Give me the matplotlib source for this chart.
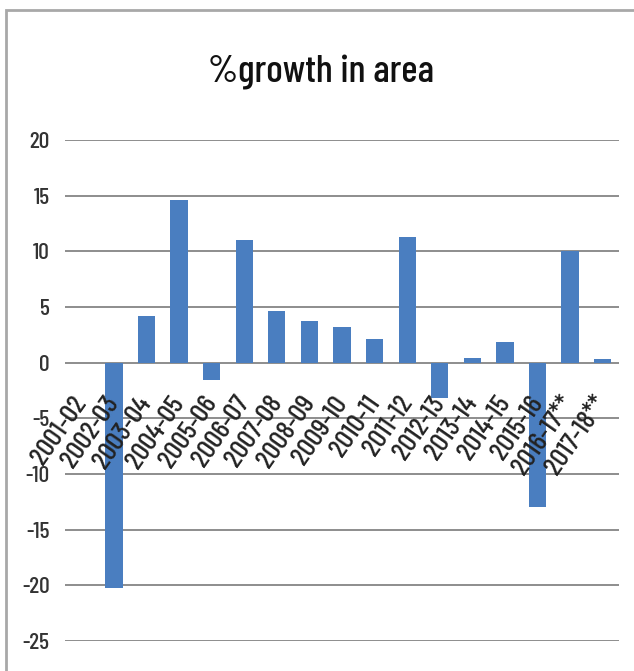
#! /usr/bin/python

# % growth in area, bar chart
import matplotlib
matplotlib.use('Agg')
import matplotlib.pyplot as plt
from matplotlib.patches import Rectangle
import numpy as np

years = ['2001-02', '2002-03', '2003-04', '2004-05', '2005-06', '2006-07',
         '2007-08', '2008-09', '2009-10', '2010-11', '2011-12', '2012-13',
         '2013-14', '2014-15', '2015-16', '2016-17**', '2017-18**']
growth = [0.0, -20.2, 4.2, 14.6, -1.6, 11.0, 4.6, 3.75, 3.2, 2.1, 11.3,
          -3.2, 0.45, 1.9, -13.0, 10.0, 0.3]
yticks = [-25, -20, -15, -10, -5, 0, 5, 10, 15, 20]

narrow = ['Barlow Condensed', 'Carlito', 'DejaVu Sans']

fig = plt.figure(figsize=(6.34, 6.71), dpi=100)
ax = fig.add_axes([65/634, 1 - 641/671, (619 - 65)/634, (641 - 140)/671])

ind = np.arange(len(years))
ax.bar(ind, growth, 0.53, color='#4A7EC0', zorder=1)

ax.set_xlim(-0.5, len(years) - 0.5)
ax.set_ylim(-25, 20)
ax.set_yticks(yticks)
ax.set_yticklabels([str(v) for v in yticks], family=narrow, fontsize=17,
                   weight=500, color='#333333')
ax.yaxis.grid(True, color='#858585', linewidth=1.3)
ax.yaxis.set_zorder(0.5)
ax.tick_params(axis='y', length=0, pad=11)

# category labels hang under the zero line, drawn over the bars
ax.spines['bottom'].set_position(('data', 0))
ax.set_xticks(ind)
ax.set_xticklabels(years, family=narrow, fontsize=20, weight=500,
                   color='#222222', rotation=55, ha='right', va='center',
                   rotation_mode='anchor')
ax.tick_params(axis='x', length=0, pad=26)
ax.xaxis.set_zorder(3)

for s in ax.spines.values():
  s.set_visible(False)

fig.text(0.507, 1 - 72/671, '%growth in area', family=narrow, fontsize=28,
         weight=500, ha='center', va='center', color='#111111')

# chart area border
fig.patches.append(Rectangle((6/634, -0.05), 1.0, 1.05 - 10/671,
                             transform=fig.transFigure, fill=False,
                             edgecolor='#a8a8a8', linewidth=2))

fig.savefig('out.png', dpi=100)
